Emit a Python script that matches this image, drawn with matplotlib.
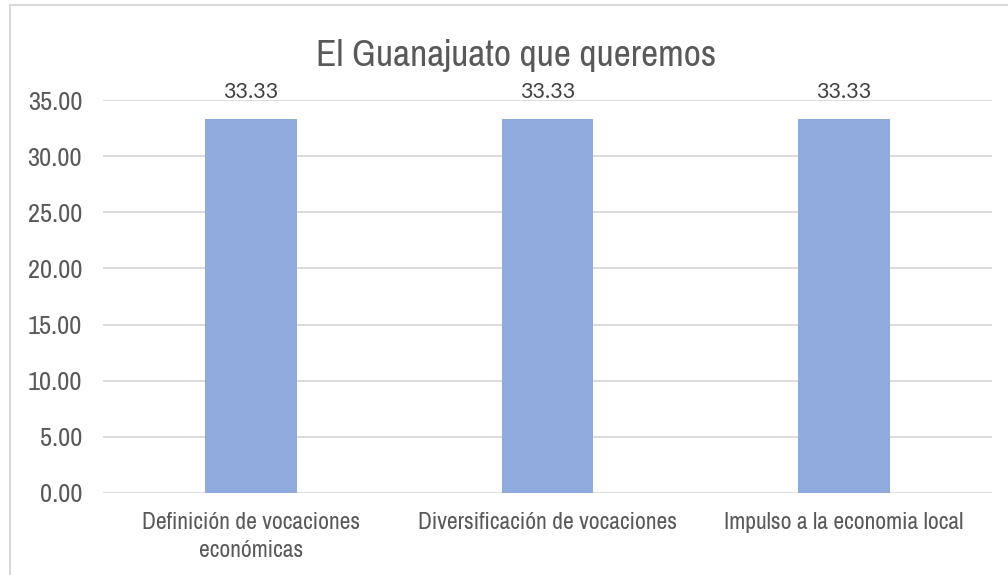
import matplotlib
matplotlib.use("Agg")
import matplotlib.pyplot as plt
from matplotlib.patches import Rectangle
from matplotlib import font_manager

categories = ["Definición de vocaciones\neconómicas", "Diversificación de vocaciones", "Impulso a la economia local"]
values = [33.33, 33.33, 33.33]
yticks = [0, 5, 10, 15, 20, 25, 30, 35]
title = "El Guanajuato que queremos"

names = {f.name for f in font_manager.fontManager.ttflist}
narrow = None
for f in font_manager.fontManager.ttflist:
    if ("Narrow" in f.name or "Condensed" in f.name) and "Mono" not in f.name:
        narrow = f.name
        break
if narrow is None:
    base = "Liberation Sans"
    cat_size, tick_size, title_size = 14, 16, 22
else:
    base = narrow
    cat_size, tick_size, title_size = 17, 19, 27
label_font = "Lato" if "Lato" in names else "DejaVu Sans"

txt = "#595959"
fig = plt.figure(figsize=(10.08, 5.75), dpi=100)
W, H = 1008, 575
ax = fig.add_axes([103 / W, 1 - 493 / H, (992 - 103) / W, (493 - 100) / H])

x = list(range(len(categories)))
bars = ax.bar(x, values, width=0.31, color="#8FAADC", zorder=3)
ax.set_xlim(-0.5, len(categories) - 0.5)
ax.set_ylim(0, 35)
ax.set_yticks(yticks)
ax.set_yticklabels([f"{v:.2f}" for v in yticks], fontsize=tick_size, color=txt, fontfamily=base)
ax.set_xticks(x)
ax.set_xticklabels(categories, fontsize=cat_size, color=txt, fontfamily=base, linespacing=1.4)
ax.tick_params(axis="both", length=0)
ax.tick_params(axis="y", pad=15)
ax.tick_params(axis="x", pad=14)
ax.grid(axis="y", color="#D9D9D9", linewidth=1.3, zorder=0)
for s in ax.spines.values():
    s.set_visible(False)

for b, v in zip(bars, values):
    ax.annotate(f"{v:.2f}", (b.get_x() + b.get_width() / 2, v), xytext=(0, 12),
                textcoords="offset points", ha="center", va="bottom",
                fontsize=15.5, color="#404040", fontfamily=label_font)

fig.text(516 / W, 1 - 55 / H, title, ha="center", va="center",
         fontsize=title_size, color=txt, fontfamily=base)

fig.patches.append(Rectangle((9.5 / W, -0.1), 1.2, 1 - 5.5 / H + 0.1, transform=fig.transFigure,
                             fill=False, edgecolor="#D9D9D9", linewidth=1.5))

fig.savefig("out.png", dpi=100)
